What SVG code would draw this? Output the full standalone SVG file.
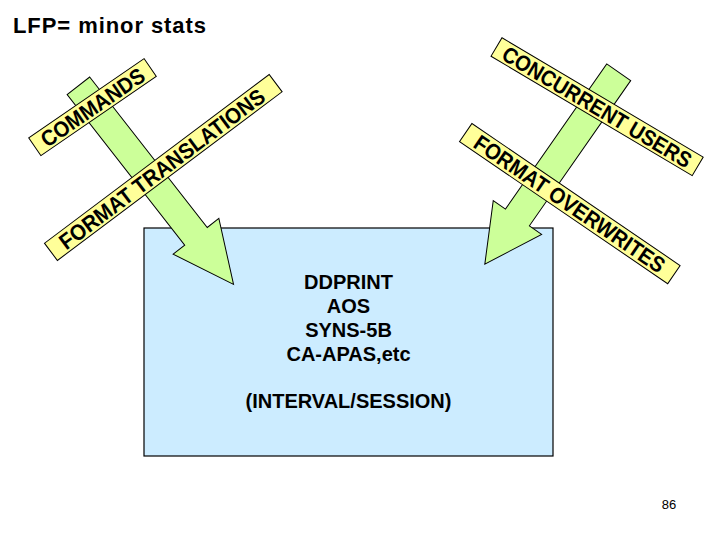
<svg xmlns="http://www.w3.org/2000/svg" width="720" height="540" viewBox="0 0 720 540">
<style>
.t{font-family:"Liberation Sans",Arial,sans-serif;font-weight:bold;fill:#000}
.arrow{fill:#CCFF99;stroke:#000;stroke-width:1}
.banner rect{fill:#FFFF99;stroke:#000;stroke-width:1}
.banner text{font-family:"Liberation Sans",Arial,sans-serif;font-weight:bold;font-size:22px;text-anchor:middle}
.box text{font-size:20px;text-anchor:middle}
</style>
<rect width="720" height="540" fill="#fff"/>
<text class="t" x="13" y="33" font-size="22" textLength="193" lengthAdjust="spacing">LFP= minor stats</text>
<g id="box" class="box">
<rect x="144" y="228" width="409" height="228" fill="#CCECFF" stroke="#000" stroke-width="1.2"/>
<text class="t" x="348.5" y="289">DDPRINT</text>
<text class="t" x="348.5" y="313">AOS</text>
<text class="t" x="348.5" y="337">SYNS-5B</text>
<text class="t" x="348.5" y="361">CA-APAS,etc</text>
<text class="t" x="348.5" y="408">(INTERVAL/SESSION)</text>
</g>
<g id="connectors">
<polygon class="arrow" transform="translate(78.4,85.8) rotate(52)" points="0,-14.3 191,-14.3 191,-29 252,0 191,29 191,14.3 0,14.3"/>
<polygon class="arrow" transform="translate(618.7,72.3) rotate(124.9)" points="0,-14.6 177,-14.6 177,-29.5 234,0 177,29.5 177,14.6 0,14.6"/>
</g>
<g id="commands" class="banner" transform="translate(92.5,107.1) rotate(-34.5)">
<rect x="-70" y="-10.75" width="140" height="21.5"/>
<text x="0" y="8" textLength="121" lengthAdjust="spacingAndGlyphs">COMMANDS</text>
</g>
<g id="format-translations" class="banner" transform="translate(163.3,167.5) rotate(-36.9)">
<rect x="-140.5" y="-10.75" width="281" height="21.5"/>
<text x="-2" y="8" textLength="251" lengthAdjust="spacingAndGlyphs">FORMAT TRANSLATIONS</text>
</g>
<g id="concurrent-users" class="banner" transform="translate(597.1,106.7) rotate(30.7)">
<rect x="-117" y="-10.75" width="234" height="21.5"/>
<text x="0" y="8" textLength="216" lengthAdjust="spacingAndGlyphs">CONCURRENT USERS</text>
</g>
<g id="format-overwrites" class="banner" transform="translate(569.8,203.6) rotate(34.3)">
<rect x="-126" y="-11" width="252" height="22"/>
<text x="0" y="8" textLength="226" lengthAdjust="spacingAndGlyphs">FORMAT OVERWRITES</text>
</g>
<text x="669" y="509" font-family="Liberation Sans,Arial,sans-serif" font-size="13" text-anchor="middle">86</text>
</svg>
